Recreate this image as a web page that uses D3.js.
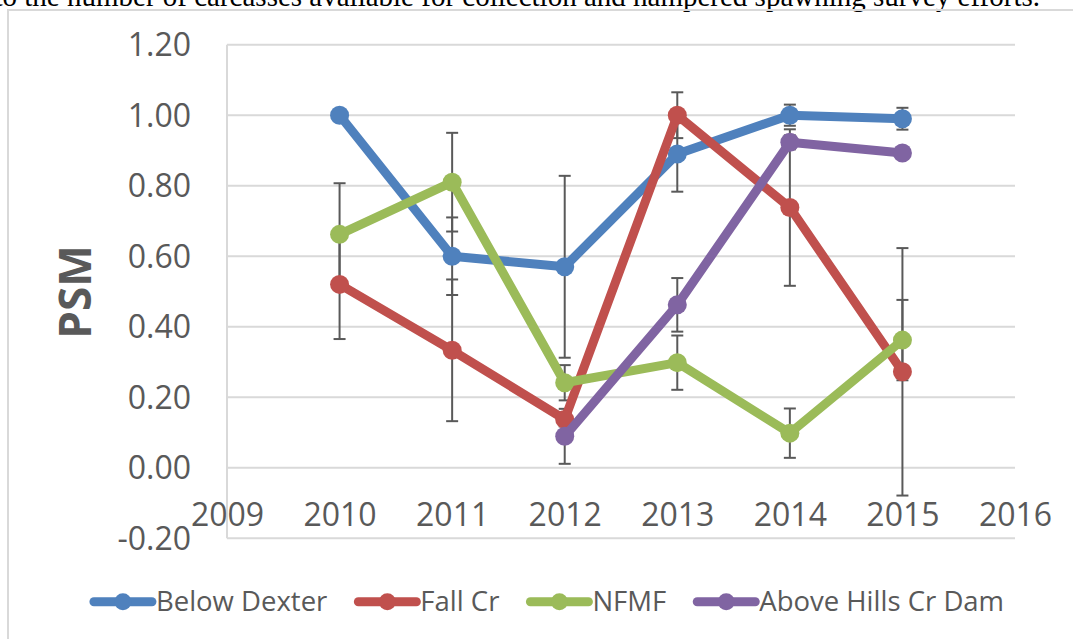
<!DOCTYPE html>
<html>
<head>
<meta charset="utf-8">
<script src="https://cdn.jsdelivr.net/npm/d3@7"></script>
<style>
  html, body { margin: 0; padding: 0; background: #fff; }
  svg { display: block; }
</style>
</head>
<body>
<div id="chart"></div>
<script>
// ---- data ----
const years = [2010, 2011, 2012, 2013, 2014, 2015];
const seriesNames = ["Below Dexter", "Fall Cr", "NFMF", "Above Hills Cr Dam"];
const belowDexter = [1.00, 0.60, 0.57, 0.89, 1.00, 0.99];
const fallCr = [0.52, 0.333, 0.137, 1.00, 0.738, 0.272];
const nfmf = [0.662, 0.81, 0.241, 0.298, 0.098, 0.362];
const aboveHills = [null, null, 0.089, 0.462, 0.923, 0.893];
const errBelowDexter = [0, 0.11, 0.258, 0.107, 0.03, 0.031];
const errFallCr = [0.155, 0.201, 0.02, 0.065, 0.222, 0.351];
const errNfmf = [0.145, 0.14, 0.05, 0.077, 0.07, 0.114];
const errAboveHills = [null, null, 0.078, 0.076, 0.02, 0];
const yTicks = [-0.2, 0, 0.2, 0.4, 0.6, 0.8, 1.0, 1.2];
const xTicks = [2009, 2010, 2011, 2012, 2013, 2014, 2015, 2016];
const colors = ["#4F81BD", "#C0504D", "#9BBB59", "#8064A2"];
const yLabel = "PSM";
const topText = "to the number of carcasses available for collection and hampered spawning survey efforts.";

const allValues = [belowDexter, fallCr, nfmf, aboveHills];
const allErrors = [errBelowDexter, errFallCr, errNfmf, errAboveHills];

// ---- layout ----
const W = 1073, H = 639;
const plot = { left: 227, right: 1015, top: 44.7, bottom: 538.2 };
const textColor = "#595959";
const gridColor = "#D9D9D9";
const font = "'Open Sans', sans-serif";

const svg = d3.select("#chart").append("svg")
  .attr("width", W).attr("height", H);
svg.append("rect").attr("width", W).attr("height", H).attr("fill", "#fff");

// partially visible text line from the surrounding document
svg.append("text")
  .attr("x", 1040).attr("y", 6)
  .attr("text-anchor", "end")
  .attr("font-family", "'Liberation Serif', 'Times New Roman', serif")
  .attr("font-size", 29)
  .attr("fill", "#000")
  .text(topText);

// chart border
svg.append("path")
  .attr("d", `M8,${H} L8,10 L${W},10`)
  .attr("fill", "none").attr("stroke", gridColor).attr("stroke-width", 2);

const x = d3.scaleLinear().domain([2009, 2016]).range([plot.left, plot.right]);
const y = d3.scaleLinear().domain([-0.2, 1.2]).range([plot.bottom, plot.top]);

// gridlines
svg.append("g").selectAll("line").data(yTicks).join("line")
  .attr("x1", plot.left).attr("x2", plot.right)
  .attr("y1", d => y(d)).attr("y2", d => y(d))
  .attr("stroke", gridColor).attr("stroke-width", 2);

// vertical axis line
svg.append("line")
  .attr("x1", plot.left).attr("x2", plot.left)
  .attr("y1", plot.top).attr("y2", plot.bottom)
  .attr("stroke", gridColor).attr("stroke-width", 2);

// y axis labels
const fmt2 = d3.format(".2f");
const yAxis = d3.axisLeft(y).tickValues(yTicks)
  .tickFormat(d => fmt2(d).replace("\u2212", "-")).tickSize(0).tickPadding(0);
const gy = svg.append("g").attr("transform", `translate(${191},0)`).call(yAxis);
gy.select(".domain").remove();
gy.selectAll("text")
  .attr("font-family", font).attr("font-size", 32).attr("fill", textColor)
  .attr("dy", "0.35em").attr("x", 0);

// x axis labels (axis crosses at 0)
const xAxis = d3.axisBottom(x).tickValues(xTicks).tickFormat(d3.format("d")).tickSize(0).tickPadding(0);
const gx = svg.append("g").attr("transform", `translate(0,${y(0)})`).call(xAxis);
gx.select(".domain").remove();
gx.selectAll("text")
  .attr("font-family", font).attr("font-size", 32).attr("fill", textColor)
  .attr("y", 47).attr("dy", "0.35em");

// y title
svg.append("text")
  .attr("transform", `translate(${76},${292}) rotate(-90)`)
  .attr("text-anchor", "middle").attr("dy", "0.35em")
  .attr("font-family", font).attr("font-weight", "bold").attr("font-size", 44)
  .attr("fill", textColor)
  .text(yLabel);

// error bars
const capHalf = 6;
allValues.forEach((vals, si) => {
  const errs = allErrors[si];
  const g = svg.append("g").attr("stroke", "#595959").attr("stroke-width", 2);
  years.forEach((yr, i) => {
    const v = vals[i], e = errs[i];
    if (v == null || e == null || e === 0) return;
    const cx = x(yr);
    g.append("line").attr("x1", cx).attr("x2", cx).attr("y1", y(v + e)).attr("y2", y(v - e));
    g.append("line").attr("x1", cx - capHalf).attr("x2", cx + capHalf).attr("y1", y(v + e)).attr("y2", y(v + e));
    g.append("line").attr("x1", cx - capHalf).attr("x2", cx + capHalf).attr("y1", y(v - e)).attr("y2", y(v - e));
  });
});

// series
const line = d3.line()
  .defined(d => d.v != null)
  .x(d => x(d.yr)).y(d => y(d.v));
allValues.forEach((vals, si) => {
  const pts = years.map((yr, i) => ({ yr, v: vals[i] }));
  const g = svg.append("g");
  g.append("path").datum(pts)
    .attr("d", line)
    .attr("fill", "none").attr("stroke", colors[si])
    .attr("stroke-width", 9).attr("stroke-linejoin", "round").attr("stroke-linecap", "round");
  g.selectAll("circle").data(pts.filter(d => d.v != null)).join("circle")
    .attr("cx", d => x(d.yr)).attr("cy", d => y(d.v)).attr("r", 9.5)
    .attr("fill", colors[si]);
});

// legend
const legY = 601.7;
const lineLen = 58;
const legG = svg.append("g");
const items = seriesNames.map((name, i) => {
  const g = legG.append("g");
  g.append("line").attr("x1", 0).attr("x2", lineLen).attr("y1", legY).attr("y2", legY)
    .attr("stroke", colors[i]).attr("stroke-width", 9).attr("stroke-linecap", "round");
  g.append("circle").attr("cx", lineLen / 2).attr("cy", legY).attr("r", 8.5).attr("fill", colors[i]);
  const t = g.append("text").attr("x", lineLen + 4).attr("y", legY).attr("dy", "0.35em")
    .attr("font-family", font).attr("font-size", 27.5).attr("fill", textColor).text(name);
  return { g, w: lineLen + 4 + t.node().getComputedTextLength() };
});
const gap = 31;
const total = d3.sum(items, d => d.w) + gap * (items.length - 1);
let cx0 = 549 - total / 2;
items.forEach(it => { it.g.attr("transform", `translate(${cx0},0)`); cx0 += it.w + gap; });
</script>
</body>
</html>
